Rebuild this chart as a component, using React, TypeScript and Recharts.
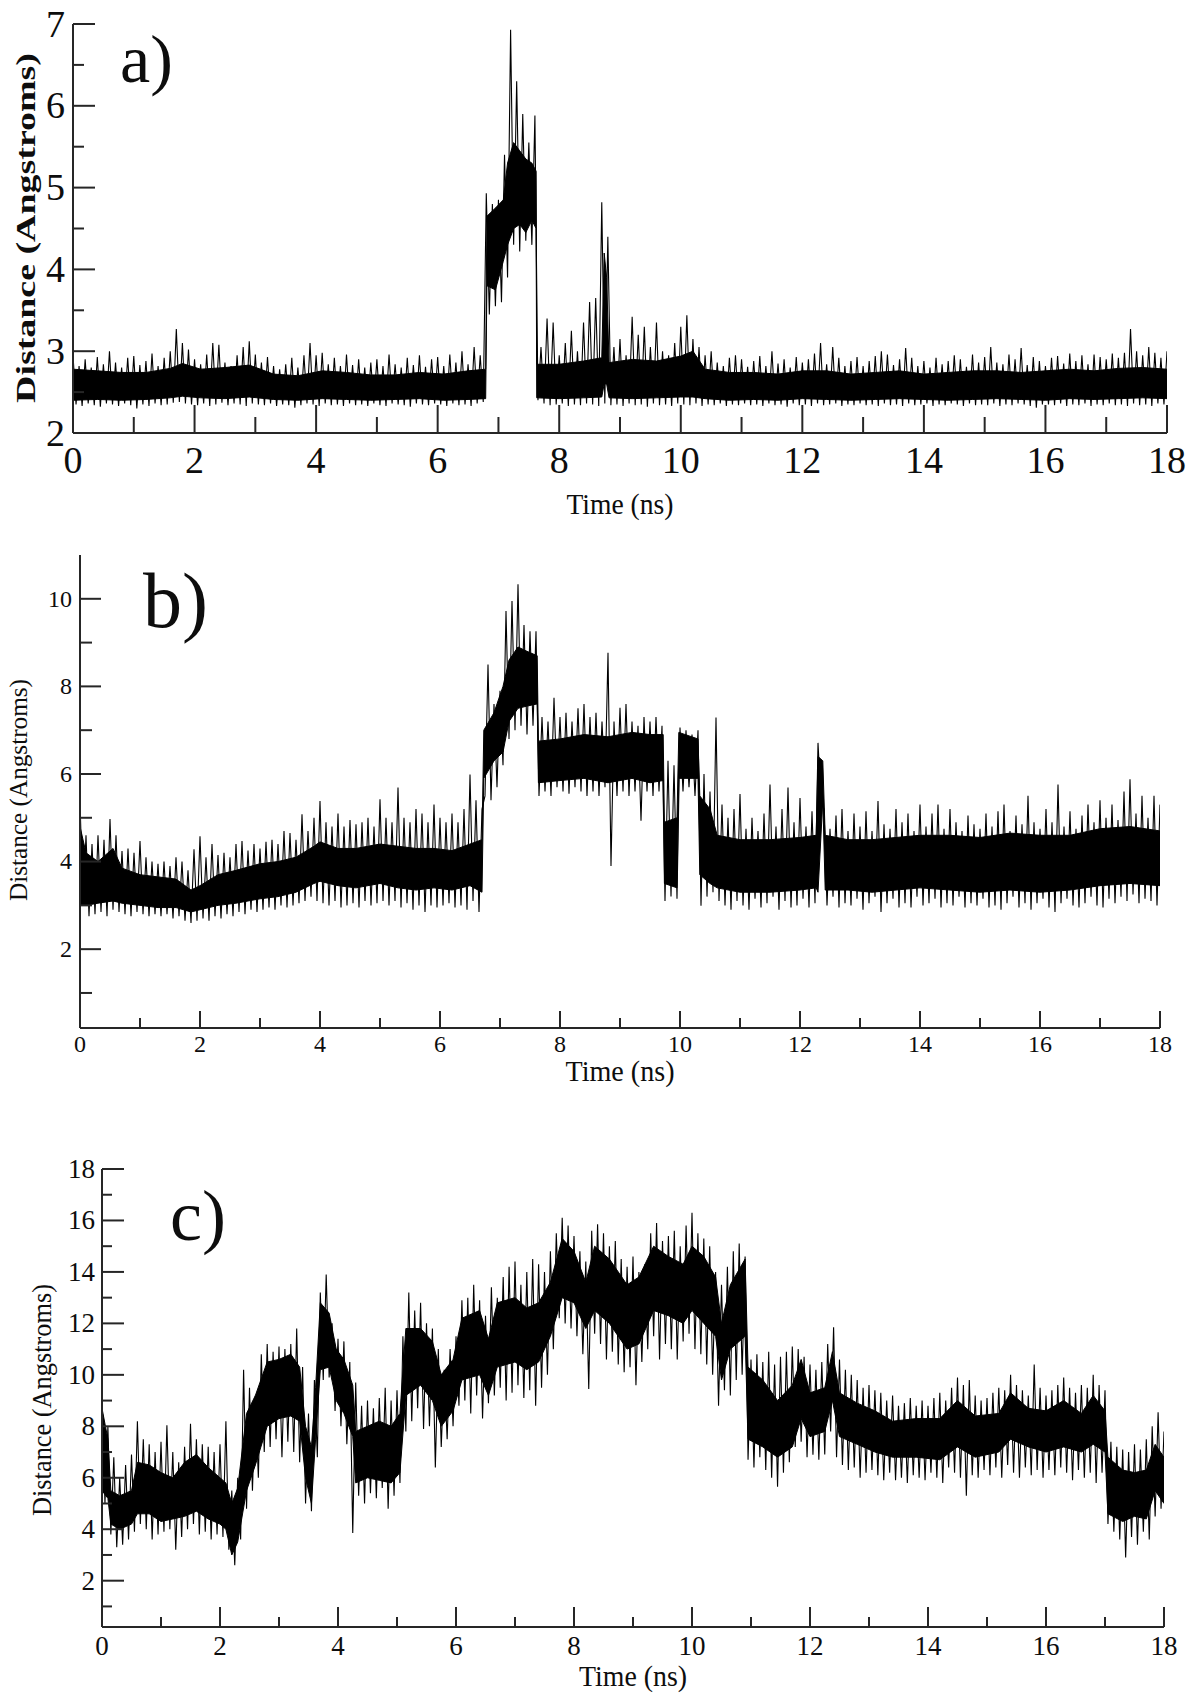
import React from "react";
import { ComposedChart, Area, Line, XAxis, YAxis } from "recharts";

// Sampling step of the spike envelopes (ns); each bin holds an upper and a lower excursion.
const STEP = 0.1;

// ---------- panel a ----------
const aHi = [
  2.95, 2.82, 2.9, 2.8, 2.93, 2.84, 3.0, 2.86, 2.8, 2.92,
  2.94, 2.83, 2.88, 2.97, 2.82, 2.92, 3.0, 3.27, 3.1, 3.02,
  2.9, 2.84, 2.96, 3.1, 3.08, 2.86, 2.82, 2.95, 3.05, 3.12,
  2.96, 2.86, 2.93, 2.82, 2.78, 2.84, 2.92, 2.8, 2.95, 3.1,
  2.95, 2.98, 2.84, 2.92, 2.82, 2.96, 2.83, 2.9, 2.8, 2.86,
  2.9, 2.82, 2.96, 2.84, 2.8, 2.92, 2.83, 2.95, 2.81, 2.9,
  2.93, 2.82, 2.96, 2.86, 3.0, 2.84, 3.05, 2.95, 4.93, 4.8,
  4.85, 5.4, 6.93, 6.3, 5.9, 5.55, 5.88, 3.05, 3.4, 3.35,
  2.95, 3.1, 3.25, 3.0, 3.35, 3.6, 3.65, 4.82, 4.4, 3.05,
  3.15, 2.95, 3.42, 3.2, 3.3, 3.05, 3.35, 3.0, 2.95, 3.1,
  3.3, 3.44, 3.15, 3.05, 2.95, 3.0, 2.86, 2.82, 2.92, 2.95,
  2.9, 2.81, 2.88, 2.94, 2.82, 3.0, 2.85, 2.9, 2.8, 2.93,
  2.86, 2.9, 2.97, 3.1, 2.84, 3.05, 2.92, 2.82, 2.88, 2.93,
  2.82, 2.88, 2.94, 3.0, 2.96, 2.83, 2.9, 3.04, 2.92, 2.82,
  2.88, 2.8, 2.92, 2.84, 2.88, 2.95, 2.9, 2.81, 2.96, 2.86,
  2.93, 3.05, 2.86, 2.84, 2.96, 2.9, 3.04, 2.83, 2.93, 2.88,
  2.82, 2.92, 2.94, 2.85, 2.97, 2.88, 2.95, 2.84, 2.96, 2.93,
  2.9, 2.97, 2.92, 2.98, 3.27, 3.0, 2.95, 3.05, 2.98, 2.92,
  3.0,
];
const aLo = [
  2.35, 2.33, 2.36, 2.34, 2.32, 2.36, 2.35, 2.33, 2.36, 2.34,
  2.3, 2.35, 2.33, 2.36, 2.34, 2.35, 2.37, 2.38, 2.36, 2.35,
  2.34, 2.36, 2.33, 2.35, 2.37, 2.34, 2.36, 2.35, 2.33, 2.36,
  2.35, 2.34, 2.36, 2.33, 2.35, 2.34, 2.31, 2.34, 2.36, 2.35,
  2.33, 2.36, 2.34, 2.35, 2.33, 2.36, 2.34, 2.35, 2.33, 2.36,
  2.34, 2.33, 2.36, 2.35, 2.34, 2.32, 2.36, 2.35, 2.34, 2.36,
  2.35, 2.33, 2.36, 2.34, 2.35, 2.33, 2.36, 2.38, 3.45, 3.55,
  3.6, 3.9, 4.3, 4.22, 4.35, 4.3, 2.4, 2.36, 2.34, 2.35,
  2.36, 2.33, 2.35, 2.34, 2.36, 2.35, 2.33, 2.36, 2.34, 2.35,
  2.33, 2.36, 2.34, 2.35, 2.32, 2.36, 2.34, 2.35, 2.33, 2.36,
  2.35, 2.34, 2.36, 2.33, 2.35, 2.34, 2.36, 2.33, 2.35, 2.34,
  2.36, 2.34, 2.35, 2.33, 2.36, 2.34, 2.35, 2.32, 2.36, 2.34,
  2.35, 2.33, 2.36, 2.34, 2.35, 2.36, 2.33, 2.35, 2.34, 2.36,
  2.34, 2.35, 2.33, 2.36, 2.34, 2.35, 2.33, 2.36, 2.34, 2.35,
  2.36, 2.33, 2.35, 2.34, 2.36, 2.35, 2.33, 2.36, 2.34, 2.35,
  2.34, 2.36, 2.33, 2.35, 2.34, 2.36, 2.35, 2.33, 2.31, 2.35,
  2.35, 2.34, 2.36, 2.33, 2.35, 2.34, 2.36, 2.33, 2.35, 2.34,
  2.36, 2.34, 2.35, 2.33, 2.36, 2.34, 2.35, 2.33, 2.36, 2.35,
];
const aCoreT = [
  0, 0.4, 0.8, 1.2, 1.6, 1.8, 2.1, 2.5, 2.9, 3.3, 3.7, 4.1, 4.5, 4.9, 5.3, 5.7, 6.1, 6.5, 6.79,
  6.81, 6.95, 7.08, 7.15, 7.25, 7.35, 7.45, 7.55, 7.62,
  7.63, 8.0, 8.4, 8.7, 8.74, 8.78, 8.82, 9.2, 9.6, 10.0, 10.2, 10.4, 10.8, 11.2, 11.6, 12.0,
  12.4, 12.8, 13.2, 13.6, 14.0, 14.4, 14.8, 15.2, 15.6, 16.0, 16.4, 16.8, 17.2, 17.6, 18.0,
];
const aCoreLo = [
  2.4, 2.41, 2.4, 2.41, 2.43, 2.45, 2.43, 2.42, 2.44, 2.41, 2.4, 2.42, 2.41, 2.4, 2.41, 2.42, 2.4, 2.41, 2.42,
  3.8, 3.75, 4.1, 4.3, 4.5, 4.55, 4.45, 4.6, 4.5,
  2.43, 2.42, 2.43, 2.44, 2.6, 2.6, 2.43, 2.42, 2.43, 2.44, 2.44, 2.42, 2.4, 2.41, 2.4, 2.42,
  2.41, 2.4, 2.41, 2.42, 2.41, 2.4, 2.41, 2.42, 2.41, 2.4, 2.42, 2.41, 2.42, 2.43, 2.42,
];
const aCoreHi = [
  2.78, 2.76, 2.74, 2.74, 2.79, 2.85, 2.78, 2.8, 2.83, 2.72, 2.7, 2.76, 2.74, 2.71, 2.71, 2.74, 2.72, 2.76, 2.78,
  4.65, 4.75, 4.85, 5.3, 5.55, 5.45, 5.35, 5.3, 5.2,
  2.84, 2.84, 2.88, 2.92, 4.2, 3.9, 2.86, 2.9, 2.88, 2.94, 3.0, 2.78, 2.74, 2.74, 2.72, 2.76,
  2.76, 2.72, 2.74, 2.76, 2.72, 2.74, 2.76, 2.76, 2.74, 2.76, 2.78, 2.76, 2.79, 2.8, 2.78,
];

// ---------- panel b ----------
const bHi = [
  5.38, 4.6, 4.4, 4.6, 4.5, 4.97, 4.6, 4.24, 4.3, 4.2,
  4.47, 4.1, 4.0, 3.95, 4.0, 3.9, 4.1, 4.0, 3.8, 4.28,
  4.58, 4.1, 4.4, 4.15, 4.2, 4.1, 4.4, 4.47, 4.25, 4.4,
  4.3, 4.45, 4.5, 4.4, 4.7, 4.65, 4.5, 5.08, 4.7, 5.0,
  5.38, 4.9, 4.8, 5.1, 4.8, 4.95, 4.85, 4.9, 5.0, 4.8,
  5.42, 5.0, 4.9, 5.69, 5.0, 4.9, 5.2, 5.1, 4.9, 5.3,
  5.0, 4.9, 5.1, 4.9, 5.2, 5.99, 5.4, 5.2, 8.5, 7.6,
  7.9, 9.72, 9.95, 10.33, 9.4, 9.26, 9.26, 7.3, 7.2, 7.74,
  7.3, 7.4, 7.2, 7.5, 7.6, 7.3, 7.4, 7.2, 8.77, 7.2,
  7.51, 7.6, 7.2, 7.1, 7.3, 7.2, 7.3, 7.1, 6.3, 6.2,
  7.06, 7.0, 6.9, 7.0, 6.0, 5.6, 7.29, 5.3, 5.0, 5.2,
  5.54, 4.75, 5.0, 4.7, 5.1, 5.76, 4.8, 5.2, 5.69, 4.9,
  5.45, 4.8, 5.15, 6.71, 5.2, 4.75, 5.05, 5.2, 4.7, 5.1,
  4.8, 5.15, 4.7, 5.38, 4.85, 4.75, 5.2, 4.9, 5.1, 4.7,
  5.3, 4.8, 5.1, 5.3, 4.75, 5.2, 4.9, 4.7, 5.05, 4.85,
  4.75, 5.1, 4.8, 5.15, 5.3, 4.7, 5.05, 4.85, 5.5, 4.9,
  4.75, 5.2, 4.9, 5.76, 4.8, 5.15, 4.75, 5.05, 5.3, 4.9,
  5.4, 5.0, 5.3, 4.95, 5.6, 5.88, 5.1, 5.5, 5.0, 5.5,
  5.3,
];
const bLo = [
  3.0, 2.75, 2.8, 2.85, 2.75, 2.9, 2.85, 2.8, 2.75, 2.85,
  2.8, 2.75, 2.8, 2.75, 2.8, 2.7, 2.75, 2.65, 2.6, 2.65,
  2.7, 2.65, 2.75, 2.7, 2.8, 2.75, 2.85, 2.8, 2.9, 2.85,
  2.9, 2.95, 2.9, 3.0, 2.95, 3.0, 3.05, 3.1, 3.2, 3.1,
  3.05, 3.0, 3.1, 2.95, 3.0, 3.05, 2.95, 3.1, 3.0, 3.05,
  3.1, 3.0, 3.1, 2.95, 3.05, 2.9, 3.0, 2.85, 3.0, 2.95,
  3.0, 3.05, 2.95, 3.0, 2.9, 3.1, 2.85, 5.5, 5.4, 5.7,
  6.2, 6.8, 7.0, 7.1, 6.9, 7.1, 5.5, 5.6, 5.5, 5.7,
  5.6, 5.55, 5.7, 5.6, 5.5, 5.6, 5.5, 5.7, 3.9, 5.5,
  5.6, 5.5, 5.6, 4.93, 5.6, 5.5, 5.6, 3.1, 3.2, 3.15,
  5.6, 5.7, 5.5, 2.99, 3.2, 3.3, 3.1, 3.0, 2.9, 3.1,
  3.0, 2.9, 3.15, 2.95, 3.05, 3.2, 2.9, 3.1, 2.95, 3.0,
  3.15, 2.95, 3.05, 5.4, 3.0, 3.2, 2.95, 3.05, 3.0, 3.15,
  2.9, 3.05, 3.2, 2.85, 3.05, 3.15, 2.95, 3.05, 2.95, 3.2,
  3.0, 3.05, 3.15, 2.95, 3.05, 3.0, 3.2, 2.95, 3.05, 3.0,
  3.15, 2.95, 3.0, 2.9, 3.05, 3.2, 2.95, 3.05, 2.9, 3.05,
  3.15, 2.95, 2.85, 3.05, 3.15, 3.0, 2.95, 3.05, 3.2, 3.0,
  2.95, 3.15, 3.05, 3.2, 3.1, 3.25, 3.05, 3.15, 3.1, 3.0,
];
const bCoreT = [
  0, 0.1, 0.3, 0.55, 0.7, 1.0, 1.3, 1.6, 1.85, 2.0, 2.3, 2.6, 3.0, 3.3, 3.6, 3.9, 4.0, 4.3, 4.6,
  5.0, 5.3, 5.6, 5.9, 6.2, 6.5, 6.7,
  6.73, 6.9, 7.05, 7.15, 7.3, 7.45, 7.62,
  7.64, 8.0, 8.4, 8.8, 9.2, 9.5, 9.72,
  9.74, 9.95, 9.98, 10.3, 10.33, 10.5, 10.62, 11.0, 11.5, 12.0, 12.27, 12.3, 12.38, 12.42,
  12.8, 13.2, 13.6, 14.0, 14.5, 15.0, 15.5, 16.0, 16.5, 17.0, 17.5, 18.0,
];
const bCoreLo = [
  3.0, 3.0, 3.05, 3.1, 3.05, 3.0, 2.95, 2.95, 2.85, 2.9, 3.0, 3.05, 3.15, 3.2, 3.3, 3.5, 3.55, 3.45, 3.4,
  3.5, 3.4, 3.35, 3.4, 3.35, 3.45, 3.3,
  5.9, 6.3, 6.5, 7.2, 7.5, 7.55, 7.6,
  5.8, 5.85, 5.9, 5.8, 5.9, 5.8, 5.85,
  3.5, 3.4, 5.9, 5.9, 3.7, 3.5, 3.4, 3.3, 3.3, 3.35, 3.4, 3.3, 5.4, 3.35,
  3.35, 3.3, 3.35, 3.4, 3.35, 3.3, 3.35, 3.3, 3.35, 3.45, 3.5, 3.45,
];
const bCoreHi = [
  4.8, 4.2, 4.0, 4.3, 3.85, 3.7, 3.65, 3.6, 3.35, 3.45, 3.7, 3.8, 3.95, 4.0, 4.1, 4.35, 4.45, 4.3, 4.3,
  4.4, 4.35, 4.3, 4.3, 4.25, 4.4, 4.5,
  7.0, 7.4, 8.0, 8.6, 8.9, 8.8, 8.7,
  6.75, 6.8, 6.9, 6.85, 6.95, 6.9, 6.9,
  4.9, 5.0, 6.95, 6.8, 5.5, 5.2, 4.6, 4.5, 4.5, 4.55, 4.6, 6.4, 6.3, 4.6,
  4.5, 4.5, 4.55, 4.6, 4.6, 4.55, 4.65, 4.6, 4.6, 4.75, 4.8, 4.7,
];

// ---------- panel c ----------
const cHi = [
  9.2, 8.0, 6.8, 6.0, 6.5, 6.9, 8.2, 7.5, 7.3, 7.0,
  7.4, 8.04, 7.0, 6.6, 7.2, 8.1, 7.5, 7.3, 7.2, 7.0,
  7.3, 8.2, 5.5, 6.0, 10.2, 9.5, 9.2, 10.8, 11.2, 10.9,
  11.1, 11.0, 11.2, 11.8, 10.3, 8.5, 9.8, 13.2, 13.9, 12.0,
  11.4, 11.3, 10.5, 9.7, 8.8, 9.0, 8.7, 9.1, 9.5, 9.0,
  9.4, 11.5, 13.2, 12.5, 12.8, 12.0, 11.8, 11.0, 10.2, 11.0,
  11.5, 12.9, 13.0, 13.5, 12.9, 12.3, 13.4, 13.0, 13.8, 14.2,
  14.4, 13.5, 14.0, 14.5, 14.3, 14.0, 14.8, 15.5, 16.1, 15.8,
  15.4, 14.8, 14.4, 15.6, 15.85, 15.5, 15.0, 15.2, 14.5, 14.2,
  14.6, 14.0, 14.3, 15.5, 15.9, 15.2, 15.4, 15.6, 15.0, 15.8,
  16.3, 15.5, 15.3, 15.0, 14.0, 13.5, 14.2, 14.8, 15.1, 14.6,
  10.6, 10.8, 10.5, 10.9, 10.4, 10.7, 10.9, 11.1, 11.0, 10.7,
  10.4, 10.2, 10.5, 11.2, 11.85, 10.6, 10.2, 10.0, 9.8, 9.5,
  9.6, 9.4, 9.3, 9.0, 9.2, 8.8, 8.9, 9.1, 8.8, 9.0,
  8.8, 9.1, 9.3, 9.0, 9.5, 9.9, 9.6, 9.8, 9.2, 9.0,
  9.1, 9.3, 9.5, 9.4, 10.0, 9.6, 9.4, 9.2, 10.4, 9.5,
  9.2, 9.4, 9.6, 9.9, 9.5, 9.3, 9.6, 9.5, 10.0, 9.6,
  9.4, 7.4, 7.2, 7.1, 7.0, 7.3, 7.1, 7.5, 8.0, 8.55,
  7.8,
];
const cLo = [
  5.0, 3.8, 3.3, 3.4, 3.6, 3.9, 4.2, 4.0, 3.6, 3.8,
  3.9, 4.0, 3.2, 3.7, 4.0, 4.2, 3.8, 3.9, 3.6, 3.8,
  3.7, 3.2, 2.6, 3.6, 4.8, 5.5, 6.0, 7.0, 7.2, 7.5,
  6.8, 7.4, 7.0, 6.6, 5.0, 4.7, 6.8, 9.8, 9.9, 8.6,
  8.0, 7.3, 3.85, 5.3, 5.0, 5.4, 5.2, 5.6, 4.8, 5.3,
  5.8, 7.8, 8.2, 8.7, 7.9, 8.0, 6.4, 7.2, 7.5, 8.0,
  8.8, 9.0, 8.5, 9.2, 8.3, 8.9, 9.2, 9.5, 9.0, 9.3,
  9.6, 9.1, 9.4, 8.8, 9.5, 10.0, 11.0, 12.2, 12.0, 11.8,
  11.5, 10.8, 9.45, 11.6, 11.2, 10.6, 10.9, 10.4, 10.1, 10.3,
  9.6, 10.5, 11.0, 11.5, 10.6, 11.2, 11.0, 10.6, 11.3, 11.6,
  11.0, 10.8, 10.4, 10.0, 8.8, 9.4, 9.2, 9.8, 10.0, 6.7,
  6.4, 6.8, 6.3, 6.0, 5.65, 6.2, 6.6, 7.2, 7.4, 6.8,
  6.9, 6.7, 6.9, 7.8, 6.8, 6.5, 6.3, 6.4, 6.0, 6.2,
  6.3, 6.1, 5.9, 6.2, 5.9, 6.0, 5.8, 6.1, 6.0, 5.9,
  6.2, 6.0, 5.8, 6.4, 6.2, 6.0, 5.3, 6.1, 6.0, 6.3,
  6.1, 6.4, 6.0, 6.5, 6.2, 6.0, 6.4, 6.1, 6.3, 6.0,
  6.3, 6.1, 6.4, 6.2, 5.9, 6.3, 6.0, 6.2, 5.8, 6.2,
  4.2, 3.9, 3.6, 2.9, 3.7, 3.4, 3.9, 3.6, 4.5, 4.8,
];
const cCoreT = [
  0, 0.1, 0.15, 0.3, 0.5, 0.6, 0.8, 1.0, 1.2, 1.4, 1.6, 1.8, 2.0, 2.1, 2.2, 2.3, 2.45, 2.6, 2.8,
  3.0, 3.2, 3.35, 3.45, 3.55, 3.62, 3.7, 3.85, 3.97, 4.1, 4.25, 4.3, 4.5, 4.7, 4.9, 5.05, 5.15,
  5.4, 5.6, 5.75, 5.95, 6.1, 6.4, 6.55, 6.7, 7.0, 7.2, 7.4, 7.6, 7.8, 8.0, 8.2, 8.35, 8.6, 8.9,
  9.1, 9.35, 9.6, 9.85, 10.0, 10.2, 10.4, 10.5, 10.65, 10.9, 10.95, 11.2, 11.45, 11.7, 11.85,
  12.0, 12.25, 12.38, 12.5, 12.8, 13.1, 13.4, 13.8, 14.2, 14.5, 14.8, 15.2, 15.4, 15.7, 16.0,
  16.3, 16.6, 16.8, 17.0, 17.05, 17.3, 17.5, 17.7, 17.85, 18.0,
];
const cCoreLo = [
  5.5, 5.2, 4.2, 4.0, 4.2, 4.6, 4.6, 4.3, 4.4, 4.5, 4.7, 4.4, 4.2, 4.0, 3.0, 3.5, 5.5, 6.5, 8.0,
  8.3, 8.4, 8.2, 6.0, 5.0, 7.5, 10.2, 10.3, 9.0, 8.5, 7.6, 5.8, 6.0, 5.9, 5.8, 6.2, 9.2,
  9.6, 9.0, 8.0, 8.6, 9.8, 10.0, 9.2, 10.3, 10.5, 10.2, 10.5, 11.5, 13.0, 12.8, 11.8, 12.5, 12.0, 11.0,
  11.2, 12.5, 12.3, 12.0, 12.5, 12.0, 11.5, 9.8, 11.0, 11.5, 7.5, 7.2, 6.8, 7.2, 8.3,
  7.6, 7.8, 9.0, 7.6, 7.3, 7.0, 6.8, 6.8, 6.7, 7.2, 6.8, 7.0, 7.5, 7.2, 7.0,
  7.2, 7.0, 7.3, 7.0, 4.6, 4.3, 4.5, 4.4, 5.5, 5.0,
];
const cCoreHi = [
  8.7, 7.5, 5.5, 5.3, 5.5, 6.6, 6.5, 6.2, 6.0, 6.6, 6.9, 6.4, 6.0, 5.8, 5.0, 5.6, 8.5, 9.2, 10.5,
  10.6, 10.8, 10.3, 8.0, 7.2, 9.5, 12.8, 12.4, 11.0, 10.6, 9.6, 7.8, 8.0, 8.2, 8.0, 8.5, 11.8,
  11.8, 11.3, 10.0, 10.6, 12.2, 12.5, 11.4, 12.8, 13.0, 12.6, 12.8, 13.6, 15.3, 14.8, 13.6, 15.0, 14.5, 13.5,
  13.8, 15.0, 14.6, 14.3, 15.0, 14.6, 13.8, 12.0, 13.5, 14.5, 10.3, 9.8, 9.0, 9.6, 10.6,
  9.3, 9.5, 10.9, 9.3, 8.9, 8.6, 8.2, 8.3, 8.3, 9.0, 8.4, 8.5, 9.3, 8.7, 8.6,
  9.0, 8.5, 9.2, 8.6, 6.8, 6.3, 6.2, 6.3, 7.3, 6.8,
];

const X_TICKS = Array.from({ length: 19 }, (_, i) => i);
const AXIS = "#262626";
const INK = "#0d0d0d";
const SERIF = "'Liberation Serif', 'Times New Roman', serif";

const zigzag = (hi: number[], lo: number[]) => {
  const out: { t: number; v: number }[] = [];
  hi.forEach((h, i) => {
    const t = Math.round(i * STEP * 100) / 100;
    out.push({ t, v: h });
    if (i < lo.length) out.push({ t: t + STEP / 2, v: lo[i] });
  });
  return out;
};

const bandData = (ts: number[], lo: number[], hi: number[]) =>
  ts.map((t, i) => ({ t, band: [lo[i], hi[i]] }));

const isMajor = (v: number, every: number) => Math.abs(v / every - Math.round(v / every)) < 1e-6;

interface PanelProps {
  top: number;
  height: number;
  plotLeft: number;
  plotTop: number;
  plotRight: number;
  plotBottom: number;
  yDomain: [number, number];
  yTicks: number[];
  yMajorEvery: number;
  xLen: [number, number];
  yLen: [number, number];
  tickFont: number;
  xGap: number;
  yGap: number;
  hi: number[];
  lo: number[];
  coreT: number[];
  coreLo: number[];
  coreHi: number[];
}

const XH = 70;

function Panel(p: PanelProps) {
  const width = 1200;
  const margin = {
    top: p.plotTop - p.top,
    right: width - p.plotRight,
    left: 0,
    bottom: p.top + p.height - p.plotBottom - XH,
  };
  const spikes = zigzag(p.hi, p.lo);
  const core = bandData(p.coreT, p.coreLo, p.coreHi);
  const labelStyle = { fontFamily: SERIF, fill: INK };

  const bottomTick = (props: any) => {
    const { x, y, payload } = props;
    const major = isMajor(payload.value, 2);
    return (
      <g>
        <line x1={x} x2={x} y1={y} y2={y - (major ? p.xLen[0] : p.xLen[1])} stroke={AXIS} strokeWidth={2} />
        {major && (
          <text x={x} y={y + p.xGap + p.tickFont * 0.66} textAnchor="middle" fontSize={p.tickFont} {...labelStyle}>
            {payload.value}
          </text>
        )}
      </g>
    );
  };
  const topTick = (props: any) => {
    const { x, y, payload } = props;
    const major = isMajor(payload.value, 2);
    return <line x1={x} x2={x} y1={y} y2={y + (major ? p.xLen[0] : p.xLen[1])} stroke={AXIS} strokeWidth={2} />;
  };
  const leftTick = (props: any) => {
    const { x, y, payload } = props;
    const major = isMajor(payload.value, p.yMajorEvery);
    return (
      <g>
        <line x1={x} x2={x + (major ? p.yLen[0] : p.yLen[1])} y1={y} y2={y} stroke={AXIS} strokeWidth={2} />
        {major && (
          <text x={x - p.yGap} y={y + p.tickFont * 0.33} textAnchor="end" fontSize={p.tickFont} {...labelStyle}>
            {payload.value}
          </text>
        )}
      </g>
    );
  };
  const rightTick = (props: any) => {
    const { x, y, payload } = props;
    const major = isMajor(payload.value, p.yMajorEvery);
    return <line x1={x} x2={x - (major ? p.yLen[0] : p.yLen[1])} y1={y} y2={y} stroke={AXIS} strokeWidth={2} />;
  };

  return (
    <div style={{ position: "absolute", left: 0, top: p.top, width, height: p.height }}>
      <ComposedChart width={width} height={p.height} margin={margin}>
        <XAxis
          xAxisId="b"
          type="number"
          dataKey="t"
          domain={[0, 18]}
          allowDataOverflow
          ticks={X_TICKS}
          interval={0}
          height={XH}
          tickSize={0}
          tickMargin={0}
          tickLine={false}
          tick={bottomTick}
          axisLine={{ stroke: AXIS, strokeWidth: 2 }}
        />
        <XAxis
          xAxisId="t"
          orientation="top"
          type="number"
          dataKey="t"
          domain={[0, 18]}
          allowDataOverflow
          ticks={X_TICKS}
          interval={0}
          height={0}
          tickSize={0}
          tickMargin={0}
          tickLine={false}
          tick={topTick}
          axisLine={{ stroke: AXIS, strokeWidth: 2 }}
        />
        <YAxis
          yAxisId="l"
          type="number"
          domain={p.yDomain}
          allowDataOverflow
          ticks={p.yTicks}
          interval={0}
          width={p.plotLeft}
          tickSize={0}
          tickMargin={0}
          tickLine={false}
          tick={leftTick}
          axisLine={{ stroke: AXIS, strokeWidth: 2 }}
        />
        <YAxis
          yAxisId="r"
          orientation="right"
          type="number"
          domain={p.yDomain}
          allowDataOverflow
          ticks={p.yTicks}
          interval={0}
          width={0}
          tickSize={0}
          tickMargin={0}
          tickLine={false}
          tick={rightTick}
          axisLine={{ stroke: AXIS, strokeWidth: 2 }}
        />
        <Area
          xAxisId="b"
          yAxisId="l"
          data={core}
          dataKey="band"
          type="linear"
          stroke="#000"
          strokeWidth={1}
          fill="#000"
          fillOpacity={1}
          isAnimationActive={false}
          dot={false}
          activeDot={false}
        />
        <Line
          xAxisId="b"
          yAxisId="l"
          data={spikes}
          dataKey="v"
          type="linear"
          stroke="#000"
          strokeWidth={1.1}
          dot={false}
          activeDot={false}
          isAnimationActive={false}
        />
      </ComposedChart>
    </div>
  );
}

const range = (a: number, b: number, s: number) => {
  const out: number[] = [];
  for (let v = a; v <= b + 1e-9; v += s) out.push(Math.round(v * 100) / 100);
  return out;
};

// axis titles and panel letters, stretched to the measured lengths of the original lettering
const YTitle = ({ cx, cy, size, len, bold }: { cx: number; cy: number; size: number; len: number; bold?: boolean }) => (
  <text
    x={cx}
    y={cy}
    transform={`rotate(-90 ${cx} ${cy})`}
    dy={size * 0.33}
    textAnchor="middle"
    fontFamily={SERIF}
    fontSize={size}
    fontWeight={bold ? 700 : 400}
    fill={INK}
    textLength={len}
    lengthAdjust="spacingAndGlyphs"
  >
    Distance (Angstroms)
  </text>
);

const XTitle = ({ cx, baseline, size, len }: { cx: number; baseline: number; size: number; len: number }) => (
  <text
    x={cx}
    y={baseline}
    textAnchor="middle"
    fontFamily={SERIF}
    fontSize={size}
    fill={INK}
    textLength={len}
    lengthAdjust="spacingAndGlyphs"
  >
    Time (ns)
  </text>
);

export default function App() {
  return (
    <div style={{ position: "absolute", left: 0, top: 0, width: 1200, height: 1705, background: "#fff" }}>
      <Panel
        top={0}
        height={540}
        plotLeft={73}
        plotTop={24}
        plotRight={1167}
        plotBottom={433}
        yDomain={[2, 7]}
        yTicks={range(2, 7, 0.5)}
        yMajorEvery={1}
        xLen={[28, 16]}
        yLen={[22, 11]}
        tickFont={38}
        xGap={15}
        yGap={8}
        hi={aHi}
        lo={aLo}
        coreT={aCoreT}
        coreLo={aCoreLo}
        coreHi={aCoreHi}
      />
      <Panel
        top={535}
        height={570}
        plotLeft={80}
        plotTop={555}
        plotRight={1160}
        plotBottom={1028}
        yDomain={[0.2, 11]}
        yTicks={range(1, 10, 1)}
        yMajorEvery={2}
        xLen={[17, 10]}
        yLen={[21, 12]}
        tickFont={24}
        xGap={8}
        yGap={8}
        hi={bHi}
        lo={bLo}
        coreT={bCoreT}
        coreLo={bCoreLo}
        coreHi={bCoreHi}
      />
      <Panel
        top={1140}
        height={565}
        plotLeft={102}
        plotTop={1169}
        plotRight={1164}
        plotBottom={1627}
        yDomain={[0.2, 18]}
        yTicks={range(1, 18, 1)}
        yMajorEvery={2}
        xLen={[20, 10]}
        yLen={[22, 10]}
        tickFont={27}
        xGap={10}
        yGap={7}
        hi={cHi}
        lo={cLo}
        coreT={cCoreT}
        coreLo={cCoreLo}
        coreHi={cCoreHi}
      />
      <svg
        width={1200}
        height={1705}
        style={{ position: "absolute", left: 0, top: 0, pointerEvents: "none" }}
      >
        <YTitle cx={26} cy={228} size={27} len={350} bold />
        <XTitle cx={620} baseline={514} size={30} len={107} />
        <YTitle cx={19} cy={790} size={25} len={222} />
        <XTitle cx={620} baseline={1081} size={30} len={109} />
        <YTitle cx={42} cy={1400} size={27} len={232} />
        <XTitle cx={633} baseline={1686} size={30} len={108} />
        <text x={120} y={82} fontFamily={SERIF} fontSize={68} fill={INK}>a)</text>
        <text x={143} y={627} fontFamily={SERIF} fontSize={78} fill={INK}>b)</text>
        <text x={170} y={1240} fontFamily={SERIF} fontSize={72} fill={INK}>c)</text>
      </svg>
    </div>
  );
}
